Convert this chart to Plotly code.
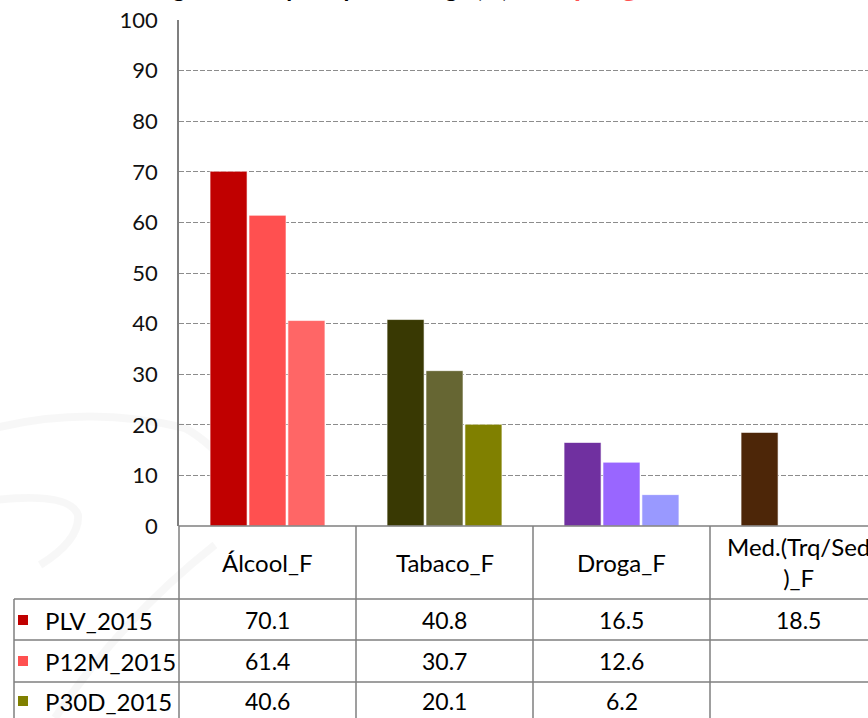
import plotly.graph_objects as go

# data
categories = ["Álcool_F", "Tabaco_F", "Droga_F", "Med.(Trq/Sed<br>)_F"]
series_names = ["PLV_2015", "P12M_2015", "P30D_2015"]
plv_2015 = [70.1, 40.8, 16.5, 18.5]
p12m_2015 = [61.4, 30.7, 12.6, None]
p30d_2015 = [40.6, 20.1, 6.2, None]
y_ticks = [0, 10, 20, 30, 40, 50, 60, 70, 80, 90, 100]

# per-point colours (the sheet varies colours by category)
bar_colors = [
    ["#C00000", "#393903", "#7030A0", "#4D2608"],
    ["#FF5050", "#666633", "#9966FF", "#4D2608"],
    ["#FF6666", "#808000", "#9999FF", "#4D2608"],
]
key_colors = ["#C00000", "#FF5050", "#808000"]

W, H = 868, 718
PL, PT, PB = 179, 20, 526          # plot area in pixels
CAT_W = 177                         # width of one category column
FONT = "Lato, 'Open Sans', sans-serif"
LINE = "#7F7F7F"


def px_y(p):
    return (PB - p) / (PB - PT)


def px_x(p):
    return (p - PL) / (W - PL)


fig = go.Figure()
values = [plv_2015, p12m_2015, p30d_2015]
for name, vals, cols in zip(series_names, values, bar_colors):
    fig.add_trace(go.Bar(
        x=list(range(len(categories))), y=vals, name=name,
        marker=dict(color=cols, line=dict(color="rgba(255,255,255,0.6)", width=1)),
        showlegend=False,
    ))

x_max = -0.5 + (W - PL) / CAT_W

fig.update_layout(
    width=W, height=H,
    margin=dict(l=PL, r=0, t=PT, b=H - PB),
    paper_bgcolor="white", plot_bgcolor="rgba(0,0,0,0)",
    barmode="group", bargap=0.34, bargroupgap=0.05,
    font=dict(family=FONT, color="black"),
    xaxis=dict(range=[-0.5, x_max], showticklabels=False, showgrid=False,
               zeroline=False, showline=False, fixedrange=True),
    yaxis=dict(range=[0, 100], tickvals=y_ticks, showline=True, linecolor=LINE,
               linewidth=1.5, gridcolor="#8C8C8C", griddash="5px,2px", gridwidth=1,
               zeroline=False, ticks="", ticklabelstandoff=15,
               tickfont=dict(size=22, family=FONT, color="#111111")),
)

shapes = []
# faint background swirls of the slide
for path in ["M -5,428 Q 90,405 185,428 Q 215,445 240,480",
             "M -5,500 Q 70,492 78,515 Q 80,540 40,565",
             "M 215,545 Q 120,620 55,718"]:
    shapes.append(dict(type="path", xref="paper", yref="paper", path=path,
                       line=dict(color="rgba(0,0,0,0.03)", width=8), layer="below"))
# convert those pixel paths to paper coordinates
for s in shapes:
    parts = []
    for tok in s["path"].replace("M", "M ").replace("Q", "Q ").split():
        if "," in tok:
            a, b = tok.split(",")
            parts.append(f"{px_x(float(a)):.4f},{px_y(float(b)):.4f}")
        else:
            parts.append(tok)
    s["path"] = " ".join(parts)

# table grid
for yp in [526, 599, 640, 682]:
    x0 = 179 if yp == 526 else 14
    shapes.append(dict(type="line", xref="paper", yref="paper",
                       x0=px_x(x0), x1=1, y0=px_y(yp), y1=px_y(yp),
                       line=dict(color=LINE, width=1.5)))
for xp in [179, 356, 533, 710]:
    shapes.append(dict(type="line", xref="paper", yref="paper",
                       x0=px_x(xp), x1=px_x(xp), y0=px_y(526), y1=px_y(H + 5),
                       line=dict(color=LINE, width=1.5)))
shapes.append(dict(type="line", xref="paper", yref="paper",
                   x0=px_x(14), x1=px_x(14), y0=px_y(599), y1=px_y(H + 5),
                   line=dict(color=LINE, width=1.5)))

annotations = []
# category header row
for i, c in enumerate(categories):
    annotations.append(dict(x=i, xref="x", y=px_y(562), yref="paper", text=c,
                            showarrow=False, xanchor="center", yanchor="middle",
                            font=dict(size=24, family=FONT)))

# series rows
row_mid = [620, 661, 701]
for r, (name, vals) in enumerate(zip(series_names, values)):
    ym = row_mid[r]
    shapes.append(dict(type="rect", xref="paper", yref="paper",
                       x0=px_x(18), x1=px_x(28), y0=px_y(ym - 5), y1=px_y(ym + 5),
                       fillcolor=key_colors[r], line=dict(width=0)))
    annotations.append(dict(x=px_x(43), xref="paper", y=px_y(ym), yref="paper",
                            text=name, showarrow=False, xanchor="left",
                            yanchor="middle", font=dict(size=24, family=FONT)))
    for i, v in enumerate(vals):
        if v is None:
            continue
        annotations.append(dict(x=i, xref="x", y=px_y(ym), yref="paper",
                                text=f"{v:.1f}", showarrow=False,
                                xanchor="center", yanchor="middle",
                                font=dict(size=23, family=FONT)))

# chart title, mostly cropped off the top of the picture
annotations.append(dict(x=px_x(525), xref="paper", y=px_y(3.5), yref="paper",
                        text="<b>Consumo ao longo da vida por tipo de droga (%) -</b>",
                        showarrow=False, xanchor="right", yanchor="bottom",
                        font=dict(size=24, family=FONT, color="black")))
annotations.append(dict(x=px_x(540), xref="paper", y=px_y(3.5), yref="paper",
                        text="<b>Raparigas</b>",
                        showarrow=False, xanchor="left", yanchor="bottom",
                        font=dict(size=28, family=FONT, color="#FF5050")))

fig.update_layout(shapes=shapes, annotations=annotations)
fig.write_html("out.html", post_script="document.body.style.margin='0';",
               config={"displayModeBar": False})
